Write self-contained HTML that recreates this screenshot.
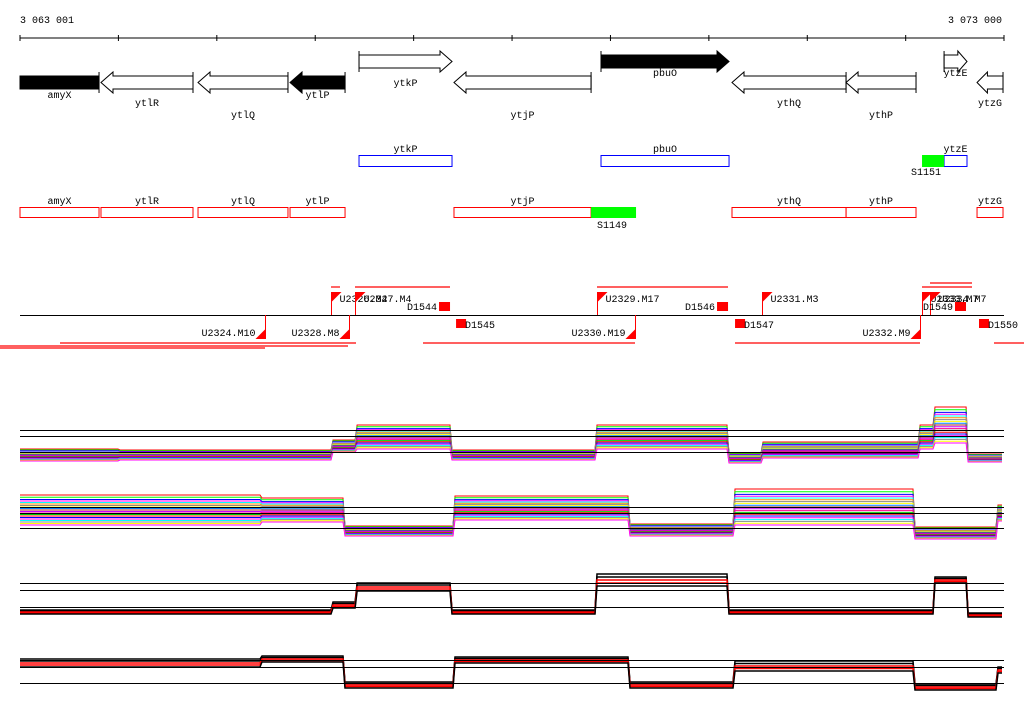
<!DOCTYPE html>
<html><head><meta charset="utf-8"><style>
html,body{margin:0;padding:0;background:#fff;}
svg{display:block;font-family:"Liberation Mono",monospace;font-size:10px;}
</style></head><body>
<svg id="c" width="1024" height="714" viewBox="0 0 1024 714" xmlns="http://www.w3.org/2000/svg">
<text x="20" y="23">3 063 001</text>
<text x="1002" y="23" text-anchor="end">3 073 000</text>
<g id="ruler"></g>
<g id="genes"></g>
<g id="boxes"></g>
<g id="marks"></g>
<g id="panels"></g>
</svg>
<script>
const NS="http://www.w3.org/2000/svg";
function mk(tag,attrs,parent,txt){const e=document.createElementNS(NS,tag);for(const k in attrs)e.setAttribute(k,attrs[k]);if(txt!==undefined)e.textContent=txt;parent.appendChild(e);return e;}
const G=id=>document.getElementById(id);

const startPos=3063001, endPos=3073000;
const xs=p=>20+(p-startPos)/(endPos-startPos)*984;
const tickPositions=[3063001,3064001,3065001,3066001,3067001,3068001,3069001,3070001,3071001,3072001,3073000];

const geneNames=["amyX","ytlR","ytlQ","ytlP","ytkP","ytjP","pbuO","ythQ","ythP","ytzE","ytzG"];
const geneStarts=[3063001,3063824,3064810,3065745,3066446,3067411,3068905,3070236,3071395,3072391,3072726];
const geneEnds=[3063804,3064759,3065724,3066304,3067391,3068804,3070206,3071395,3072106,3072624,3072990];
const geneStrand=[-1,-1,-1,-1,1,-1,1,-1,-1,1,-1];
const geneFilled=[1,0,0,1,0,0,1,0,0,0,0];
const geneLabelRow=[0,1,2,0,0,2,0,1,2,0,1];
const geneHasHead=[0,1,1,1,1,1,1,1,1,1,1];

const blueNames=["ytkP","pbuO","ytzE"];
const blueIdx=[4,6,9];
const redIdx=[0,1,2,3,5,7,8,10];
const sigStarts=[3072167,3068804];const sigEnds=[3072391,3069261];const sigLabels=["S1151","S1149"];

const upFlagPos=[3066161,3066405,3068864,3070541,3072167,3072248];
const upFlagLabels=["U2326.M4","U2327.M4","U2329.M17","U2331.M3","U2333.M7","U2334.M7"];
const loFlagPos=[3065491,3066344,3069251,3072147];
const loFlagLabels=["U2324.M10","U2328.M8","U2330.M19","U2332.M9"];
const upSquarePos=[3067259,3070084,3072502];
const upSquareLabels=["D1544","D1546","D1549"];
const loSquarePos=[3067432,3070267,3072746];
const loSquareLabels=["D1545","D1547","D1550"];

const breaksA=[3063001,3064017,3066182,3066426,3067391,3068864,3070206,3070551,3072147,3072299,3072635,3073000];
const p1Levels=[3,3,-6,-15,3,-15,6,-2,-15,-27,6];
const p1Spread=[6,5,6,12,5,12,5,8,12,18,4];
const p3Levels=[5,5,-2,-20,5,-27,5,5,5,-27,8];
const p3Spread=[2,2,3,4,2,6,2,2,2,3,2];
const breaksB=[3063001,3065460,3066304,3067421,3069200,3070267,3072096,3072939,3073000];
const p2Levels=[-3,-3,18,-5,17,-6,20,0];
const p2Spread=[15,12,5,12,6,18,6,8];
const p4Levels=[-4,-8,18,-7,18,-1,20,3];
const p4Spread=[4,3,3,3,3,5,3,3];
const lineOffsets=[-1,-0.85,-0.7,-0.6,-0.5,-0.4,-0.3,-0.2,-0.1,0,0.1,0.2,0.3,0.4,0.5,0.6,0.7,0.8,0.9,1];
const lineColors=["#f00","#0f0","#00f","#f0f","#0ff","#ff8c00","#888","#ff0","#0080ff","#a52a2a","#c0f","#f08","#0c0","#f00","#00f","#f0f","#0ff","#888","#ff0","#f0f"];
const pairOffsets=[-1,-0.5,0,0.5,1];

const r=G('ruler');
mk('line',{x1:20,y1:38,x2:1004,y2:38,stroke:'#000'},r);
tickPositions.forEach(p=>{const t=mk('line',{x1:xs(p),y1:35,x2:xs(p),y2:41,stroke:'#000'},r);

});

const g=G('genes');
geneNames.forEach((n,i)=>{
  const a=xs(geneStarts[i]),b=xs(geneEnds[i]),s=geneStrand[i];
  const top=s>0?55:76,bot=top+13,mid=(top+bot)/2;
  const fill=geneFilled[i]?'#000':'#fff';
  let pts;
  const hl=Math.min(12,(b-a)*0.4);
  if(!geneHasHead[i]) pts=`${a},${top} ${b},${top} ${b},${bot} ${a},${bot}`;
  else if(s>0) pts=`${a},${top} ${b-hl},${top} ${b-hl},${top-4} ${b},${mid} ${b-hl},${bot+4} ${b-hl},${bot} ${a},${bot}`;
  else pts=`${b},${top} ${a+hl},${top} ${a+hl},${top-4} ${a},${mid} ${a+hl},${bot+4} ${a+hl},${bot} ${b},${bot}`;
  const grp=mk('g',{},g);
  
  
  mk('polygon',{points:pts,fill:fill,stroke:'#000'},grp);
  const ex=s>0?a:b;
  mk('line',{x1:ex,y1:top-4,x2:ex,y2:bot+4,stroke:'#000'},grp);
  const lyy=[s>0?(geneFilled[i]?76:86):98,106,118][geneLabelRow[i]];
  mk('text',{x:(a+b)/2,y:(n==="ytzE")?76:lyy,'text-anchor':'middle'},grp,n);
});

const bx=G('boxes');
blueIdx.forEach((gi,k)=>{const a=xs(geneStarts[gi]),b=xs(geneEnds[gi]);
  const e=mk('rect',{x:a,y:155.5,width:b-a,height:11,fill:'none',stroke:'#00f'},bx);
  
  
  mk('text',{x:(a+b)/2,y:152,'text-anchor':'middle'},bx,blueNames[k]);});
redIdx.forEach(gi=>{const a=xs(geneStarts[gi]),b=xs(geneEnds[gi]);
  const e=mk('rect',{x:a,y:207.5,width:b-a,height:10,fill:'none',stroke:'#f00'},bx);
  
  
  mk('text',{x:(a+b)/2,y:204,'text-anchor':'middle'},bx,geneNames[gi]);});
sigStarts.forEach((p,k)=>{const a=xs(p),b=xs(sigEnds[k]);const y=k==0?155:207;
  const e=mk('rect',{x:a,y:y,width:b-a,height:k==0?12:11,fill:'#0f0'},bx);
  
  
  mk('text',{x:k==0?911:597,y:k==0?175:228},bx,sigLabels[k]);});

const m=G('marks');
mk('line',{x1:20,y1:315.5,x2:1004,y2:315.5,stroke:'#000'},m);
[[331,340,287],[355,450,287],[597,728,287],[922,972,287],[930,972,283],[60,356,343],[0,348,346],[0,265,348],[423,635,343],[735,920,343],[994,1024,343]].forEach(l=>{
  const e=mk('line',{x1:l[0],y1:l[2],x2:l[1],y2:l[2],stroke:'#f00','stroke-width':1.2},m);
  
  });
upFlagPos.forEach((p,k)=>{const x=Math.round(xs(p))+0.5;
  const grp=mk('g',{},m);
  
  
  mk('line',{x1:x,y1:292,x2:x,y2:315,stroke:'#f00'},grp);
  mk('polygon',{points:`${x},292 ${x+10},292 ${x},302`,fill:'#f00'},grp);
  mk('text',{x:x+8,y:302},grp,upFlagLabels[k]);});
loFlagPos.forEach((p,k)=>{const x=Math.round(xs(p))+0.5;
  const grp=mk('g',{},m);
  
  
  mk('line',{x1:x,y1:315,x2:x,y2:339,stroke:'#f00'},grp);
  mk('polygon',{points:`${x},329 ${x},339 ${x-10},339`,fill:'#f00'},grp);
  mk('text',{x:x-10,y:336,'text-anchor':'end'},grp,loFlagLabels[k]);});
upSquarePos.forEach((p,k)=>{const x=xs(p);
  const grp=mk('g',{},m);
  
  
  mk('rect',{x:x,y:302,width:11,height:9,fill:'#f00'},grp);
  mk('text',{x:x-2,y:310,'text-anchor':'end'},grp,upSquareLabels[k]);});
loSquarePos.forEach((p,k)=>{const x=xs(p);
  const grp=mk('g',{},m);
  
  
  mk('rect',{x:x,y:319,width:10,height:9,fill:'#f00'},grp);
  mk('text',{x:x+9,y:328},grp,loSquareLabels[k]);});

const pn=G('panels');
function panel(name,refYs,mid,breaks,levels,spread,offsets,colors,bold){
  const grp=mk('g',{},pn);
  
  
  offsets.forEach((o,li)=>{
    let d='';
    for(let s=0;s<levels.length;s++){
      const x0=xs(breaks[s]),x1=xs(breaks[s+1]);
      const y=mid+levels[s]+o*spread[s];
      d+=(s==0?'M':'L')+x0.toFixed(1)+','+y.toFixed(1)+' L'+(x1-2).toFixed(1)+','+y.toFixed(1)+' ';
    }
    const e=mk('path',{d:d,fill:'none',stroke:colors[li%colors.length],'stroke-width':bold?1.5:1},grp);
    
    
  });
  refYs.forEach(y=>{const e=mk('line',{x1:20,y1:y+0.5,x2:1004,y2:y+0.5,stroke:'#000'},grp);
    
    });
}
panel('panel-1',[430,436,452],452,breaksA,p1Levels,p1Spread,lineOffsets,lineColors,false);
panel('panel-2',[507,513,528],513,breaksB,p2Levels,p2Spread,lineOffsets,lineColors,false);
panel('panel-3',[583,590,607],607,breaksA,p3Levels,p3Spread,pairOffsets,['#000','#000','#f00','#f00','#000'],true);
panel('panel-4',[660,667,683],667,breaksB,p4Levels,p4Spread,pairOffsets,['#000','#000','#f00','#f00','#000'],true);
</script>
</body></html>
